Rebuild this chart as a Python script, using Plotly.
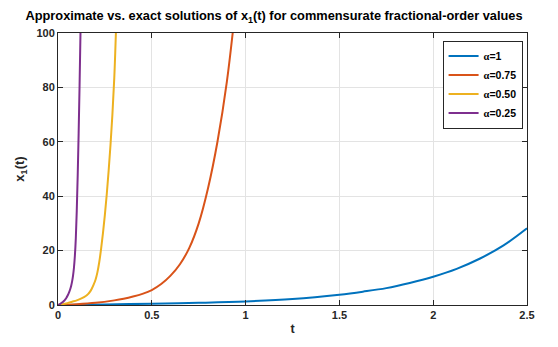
import plotly.graph_objects as go

# Data
t_a1 = [0, 0.25, 0.5, 0.75, 1.0, 1.25, 1.5, 1.625, 1.75, 1.875, 2.0, 2.125, 2.25, 2.375, 2.5]
x_a1 = [0, 0.22, 0.45, 0.8, 1.3, 2.2, 3.8, 4.9, 6.2, 8.1, 10.4, 13.3, 17.1, 21.9, 28.2]

t_a075 = [0, 0.1, 0.2, 0.3, 0.35, 0.4, 0.45, 0.5, 0.55, 0.6, 0.65, 0.7, 0.75, 0.8, 0.85, 0.9, 0.95]
x_a075 = [0, 0.3, 0.8, 1.7, 2.3, 3.1, 4.1, 5.5, 7.7, 10.8, 15, 21, 30, 43, 60, 82, 112]

t_a050 = [0, 0.025, 0.05, 0.075, 0.1, 0.125, 0.15, 0.16, 0.17, 0.18, 0.19, 0.20,
          0.21, 0.22, 0.23, 0.24, 0.25, 0.26, 0.27, 0.28, 0.29, 0.30, 0.31]
x_a050 = [0, 0.3, 0.7, 1.2, 1.7, 2.4, 3.4, 4.0, 4.8, 6.0, 7.5, 9.3,
          12.0, 15.8, 20.8, 26.6, 33.2, 40.8, 49.4, 59.0, 70.0, 83.5, 103]

t_a025 = [0, 0.01, 0.02, 0.03, 0.04, 0.045, 0.05, 0.055, 0.06, 0.065, 0.07, 0.075,
          0.08, 0.085, 0.09, 0.095, 0.10, 0.105, 0.11, 0.115, 0.12]
x_a025 = [0, 0.3, 0.8, 1.4, 2.2, 2.7, 3.3, 4.0, 4.8, 5.8, 7.0, 8.6,
          10.7, 13.7, 18.1, 24.6, 34.6, 47.6, 63.1, 80.6, 100.6]

labels = ["=1", "=0.75", "=0.50", "=0.25"]
colors = ["#0072BD", "#D95319", "#EDB120", "#7E2F8E"]
x_ticks = [0, 0.5, 1, 1.5, 2, 2.5]
x_tick_text = ["0", "0.5", "1", "1.5", "2", "2.5"]
y_ticks = [0, 20, 40, 60, 80, 100]

series = [(t_a1, x_a1), (t_a075, x_a075), (t_a050, x_a050), (t_a025, x_a025)]

fig = go.Figure()
for (t, x), lab, col in zip(series, labels, colors):
    fig.add_trace(go.Scatter(
        x=t, y=x, mode="lines",
        line=dict(color=col, width=2, shape="spline", smoothing=1.0),
        name="<span style='font-family:Liberation Serif'>α</span>" + lab,
    ))

axis_common = dict(
    showline=True, linecolor="#262626", linewidth=1, mirror="ticks",
    ticks="inside", ticklen=5, tickcolor="#262626",
    showgrid=True, gridcolor="#E3E3E3", gridwidth=1,
    zeroline=False,
    tickfont=dict(family="Liberation Sans", size=11, color="#262626", weight="bold"),
)

fig.update_layout(
    width=558, height=347,
    margin=dict(l=58, r=31, t=33, b=42),
    paper_bgcolor="white", plot_bgcolor="white",
    font=dict(family="Liberation Sans", color="#262626"),
    title=dict(
        text="<b>Approximate vs. exact solutions of x<sub>1</sub>(t) for commensurate fractional-order values</b>",
        x=274 / 558, xanchor="center", xref="container",
        y=1 - 16 / 347, yanchor="middle", yref="container",
        font=dict(family="Liberation Sans", size=12.8, color="black"),
    ),
    xaxis=dict(range=[0, 2.5], tickvals=x_ticks, ticktext=x_tick_text,
               title=dict(text="<b>t</b>", standoff=4,
                          font=dict(family="Liberation Sans", size=12.5, color="#262626")),
               **axis_common),
    yaxis=dict(range=[0, 100], tickvals=y_ticks,
               title=dict(text="<b>x<sub>1</sub>(t)</b>", standoff=8,
                          font=dict(family="Liberation Sans", size=13, color="#262626")),
               **axis_common),
    legend=dict(
        x=0.82, y=0.972, xanchor="left", yanchor="top",
        bgcolor="white", bordercolor="#262626", borderwidth=1,
        font=dict(family="Liberation Sans", size=10.5, color="black", weight="bold"),
        tracegroupgap=0,
    ),
)

fig.write_html("out.html")
